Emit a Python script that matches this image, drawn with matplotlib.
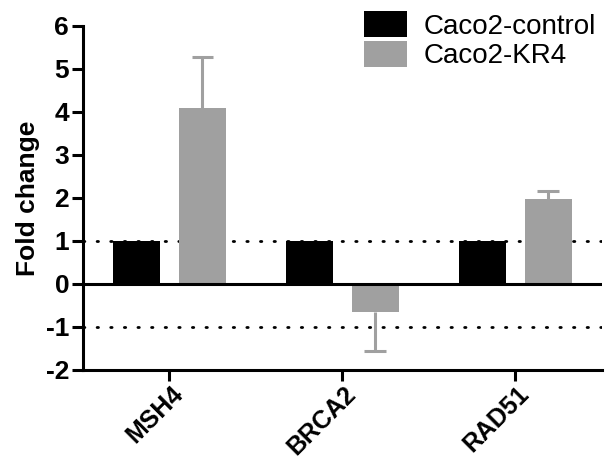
import matplotlib
matplotlib.use("Agg")
import matplotlib.pyplot as plt
import matplotlib.transforms as mtransforms
import numpy as np
from matplotlib.patches import Patch

genes = ["MSH4", "BRCA2", "RAD51"]
series_names = ["Caco2-control", "Caco2-KR4"]
control_vals = [1.0, 1.0, 1.0]
kr4_vals = [4.1, -0.65, 1.97]
kr4_err = [1.17, 0.91, 0.2]
yticks = [-2, -1, 0, 1, 2, 3, 4, 5, 6]

plt.rcParams['font.family'] = ['Liberation Sans', 'DejaVu Sans']

fig = plt.figure(figsize=(6.06, 4.63), dpi=100)
ax = fig.add_axes([0.137, 0.201, 0.856, 0.743])

x = np.arange(len(genes))
w = 0.273
off = 0.19
cap = 0.125
black = "#000000"
gray = "#A0A0A0"

ax.bar(x - off, control_vals, width=w, color=black, zorder=3)
ax.bar(x + off, kr4_vals, width=w, color=gray, zorder=3)
# one-sided error bars (away from zero)
vals = np.array(kr4_vals)
errs = np.array(kr4_err)
ends = vals + np.sign(vals) * errs
ax.vlines(x + off, vals, ends, color=gray, lw=2.2, zorder=2)
ax.hlines(ends, x + off - cap / 2, x + off + cap / 2, color=gray, lw=2.2, zorder=2)

ax.axhline(0, color='black', lw=2.2, zorder=4)
for yv in (1, -1):
    ax.axhline(yv, color='black', lw=2, linestyle=(0, (0.5, 4.4)),
               dash_capstyle='round', zorder=1)

ax.set_xlim(-0.5, 2.5)
ax.set_ylim(-2, 6)
ax.set_yticks(yticks)
ax.set_yticklabels([str(t) for t in yticks], fontsize=19, fontweight='bold')
ax.set_xticks(x)
ax.set_xticklabels(genes, fontsize=18, fontweight='bold', rotation=45,
                   ha='right', va='center', rotation_mode='anchor')
ax.tick_params(axis='y', width=2.2, length=8, direction='out', pad=2)
ax.tick_params(axis='x', width=2.2, length=8, direction='out', pad=8)
shift = mtransforms.ScaledTranslation(0.10, 0.02, fig.dpi_scale_trans)
for lbl in ax.get_xticklabels():
    lbl.set_transform(lbl.get_transform() + shift)
ax.spines['top'].set_visible(False)
ax.spines['right'].set_visible(False)
ax.spines['left'].set_linewidth(2.2)
ax.spines['bottom'].set_linewidth(2.2)
ax.set_ylabel("Fold change", fontsize=19, fontweight='bold', labelpad=4)

handles = [Patch(facecolor=black, label=series_names[0]),
           Patch(facecolor=gray, label=series_names[1])]
ax.legend(handles=handles, loc='upper right', bbox_to_anchor=(1.01, 1.075),
          frameon=False, fontsize=20, handlelength=1.55, handleheight=1.05,
          handletextpad=0.6, labelspacing=0.05, borderaxespad=0)

fig.savefig("out.png", dpi=100)
